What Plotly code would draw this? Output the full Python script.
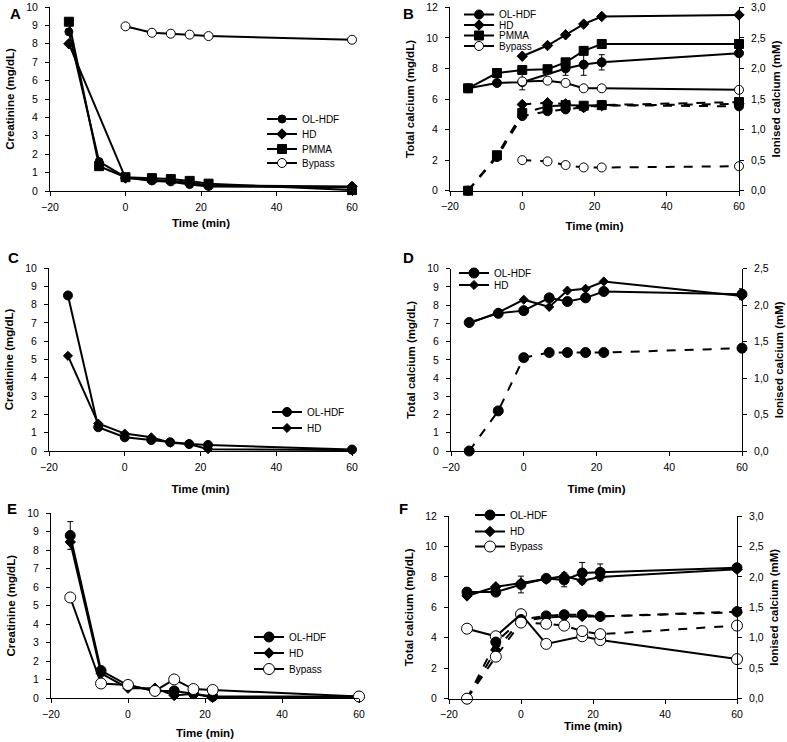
import plotly.graph_objects as go

# sampling times (min), shared by all panels
T = [-15, -7, 0, 7, 12, 17, 22, 60]

# panel A: creatinine (mg/dL)
a_ol = [8.65, 1.6, 0.75, 0.55, 0.5, 0.35, 0.25, 0.2]
a_hd = [8.0, None, 0.7, 0.6, 0.55, 0.45, 0.3, 0.25]
a_pmma = [9.2, 1.35, 0.75, 0.7, 0.65, 0.55, 0.4, 0.05]
a_byp = [None, None, 8.95, 8.6, 8.55, 8.5, 8.42, 8.22]

# panel B: total calcium (mg/dL) and ionised calcium (mM)
b_ol_t = [6.7, 7.05, 7.1, None, 8.0, 8.25, 8.4, 9.0]
b_ol_t_err = [0.25, 0.1, 0.1, 0, 0.45, 0.7, 0.5, 0.1]
b_hd_t = [None, None, 8.8, 9.5, 10.2, 10.9, 11.4, 11.5]
b_pmma_t = [6.7, 7.7, 7.9, 7.95, 8.4, 9.15, 9.6, 9.6]
b_byp_t = [None, None, 7.15, 7.2, 7.05, 6.7, 6.7, 6.6]
b_byp_t_err = [0, 0, 0.55, 0, 0, 0, 0, 0]
b_ol_i = [0, 0.55, 1.22, 1.3, 1.33, 1.37, 1.4, 1.38]
b_hd_i = [None, None, 1.41, 1.44, 1.42, 1.36, 1.39, 1.42]
b_pmma_i = [0, 0.58, 1.27, 1.38, 1.4, 1.39, 1.4, 1.45]
b_byp_i = [None, None, 0.5, 0.48, 0.42, 0.38, 0.38, 0.4]

# panel C: creatinine
c_ol = [8.5, 1.3, 0.75, 0.6, 0.48, 0.38, 0.33, 0.08]
c_hd = [5.2, 1.5, 0.95, 0.75, 0.45, 0.38, 0.1, 0.05]

# panel D: total / ionised calcium
d_ol_t = [7.05, 7.55, 7.7, 8.4, 8.2, 8.4, 8.75, 8.6]
d_ol_t_err = [0.15, 0, 0, 0, 0, 0, 0, 0.3]
d_hd_t = [7.0, 7.6, 8.3, 7.9, 8.8, 8.9, 9.3, 8.5]
d_ol_i = [0, 0.55, 1.28, 1.35, 1.35, 1.35, 1.35, 1.41]

# panel E: creatinine
e_ol = [8.8, 1.5, 0.7, 0.4, 0.4, 0.25, 0.1, 0.1]
e_ol_err = [0.75, 0, 0, 0, 0, 0, 0, 0]
e_hd = [8.45, 1.35, 0.55, 0.55, 0.15, 0.25, 0.05, 0.05]
e_byp = [5.45, 0.8, 0.72, 0.4, 1.02, 0.5, 0.45, 0.1]

# panel F: total / ionised calcium
f_ol_t = [7.0, 7.0, 7.5, 7.9, 7.8, 8.25, 8.3, 8.6]
f_ol_t_err = [0.25, 0, 0.55, 0, 0.45, 0.7, 0.55, 0]
f_hd_t = [6.75, 7.35, 7.6, 7.85, 8.05, 7.75, 8.0, 8.5]
f_byp_t = [4.6, 4.1, 5.55, 3.6, None, 4.1, 3.85, 2.6]
f_ol_i = [0, 0.93, 1.3, 1.36, 1.38, 1.38, 1.35, 1.43]
f_hd_i = [0, 0.8, 1.28, 1.33, 1.35, 1.35, 1.35, 1.42]
f_byp_i = [0, 0.69, 1.25, 1.23, 1.2, 1.11, 1.06, 1.2]

W, H = 787, 742
FONT = "Liberation Sans, Arial"

STYLE = {
    "OL-HDF": dict(symbol="circle", color="black"),
    "HD": dict(symbol="diamond", color="black"),
    "PMMA": dict(symbol="square", color="black"),
    "Bypass": dict(symbol="circle", color="white"),
}

fig = go.Figure()
legend_pos = {}  # legend id -> (text left px, centre y px)
n_leg = [0]


def add(name, y, xa, ya, size=8, dash="solid", err=None, leg=None):
    st = STYLE[name]
    if leg is not None:
        n_leg[0] += 1
        lid = "legend" if n_leg[0] == 1 else "legend%d" % n_leg[0]
        legend_pos[lid] = leg
    else:
        lid = "legend"
    fig.add_trace(
        go.Scatter(
            x=T,
            y=y,
            name=name,
            mode="lines+markers",
            connectgaps=True,
            cliponaxis=False,
            line=dict(color="black", width=2, dash=dash),
            marker=dict(symbol=st["symbol"], color=st["color"], size=size,
                        line=dict(color="black", width=1)),
            error_y=dict(type="data", array=err, color="black", thickness=1, width=3,
                         visible=err is not None),
            xaxis=xa,
            yaxis=ya,
            legend=lid,
            showlegend=leg is not None,
        )
    )


# A
add("OL-HDF", a_ol, "x", "y", 8, leg=(303, 119))
add("HD", a_hd, "x", "y", 8, leg=(303, 134))
add("PMMA", a_pmma, "x", "y", 9, leg=(303, 149))
add("Bypass", a_byp, "x", "y", 9, leg=(303, 163))

# B (legend box is 29px tall, so the top entry cannot sit higher than 14.5px)
add("OL-HDF", b_ol_i, "x2", "y7", 9, "dash")
add("HD", b_hd_i, "x2", "y7", 8, "dash")
add("PMMA", b_pmma_i, "x2", "y7", 9, "dash")
add("Bypass", b_byp_i, "x2", "y7", 9, "dash")
add("OL-HDF", b_ol_t, "x2", "y2", 9, err=b_ol_t_err, leg=(500, 14.5))
add("HD", b_hd_t, "x2", "y2", 8, leg=(500, 25))
add("PMMA", b_pmma_t, "x2", "y2", 9, leg=(500, 35.5))
add("Bypass", b_byp_t, "x2", "y2", 9, err=b_byp_t_err, leg=(500, 46))

# C
add("OL-HDF", c_ol, "x3", "y3", 9, leg=(308, 412))
add("HD", c_hd, "x3", "y3", 7, leg=(308, 428))

# D
add("OL-HDF", d_ol_i, "x4", "y8", 10, "dash")
add("OL-HDF", d_ol_t, "x4", "y4", 10, err=d_ol_t_err, leg=(495, 273))
add("HD", d_hd_t, "x4", "y4", 7, leg=(495, 285))

# E
add("OL-HDF", e_ol, "x5", "y5", 10, err=e_ol_err, leg=(290, 637))
add("HD", e_hd, "x5", "y5", 8, leg=(290, 653))
add("Bypass", e_byp, "x5", "y5", 11, leg=(290, 669))

# F
add("OL-HDF", f_ol_i, "x6", "y9", 10, "dash")
add("HD", f_hd_i, "x6", "y9", 8, "dash")
add("Bypass", f_byp_i, "x6", "y9", 11, "dash")
add("OL-HDF", f_ol_t, "x6", "y6", 10, err=f_ol_t_err, leg=(511, 515))
add("HD", f_hd_t, "x6", "y6", 8, leg=(511, 531.5))
add("Bypass", f_byp_t, "x6", "y6", 11, leg=(511, 546.5))


def px(a, b):
    return [a / W, b / W]


def py(top, bottom):
    return [1 - bottom / H, 1 - top / H]


axis_common = dict(
    showgrid=False, zeroline=False, showline=True, linecolor="black", linewidth=1,
    ticks="outside", ticklen=4, tickcolor="black", automargin=False,
    tickfont=dict(size=10.5, family=FONT, color="black"),
)
title_font = dict(size=11.5, family=FONT, color="black")


def xaxis(dom, anchor, standoff):
    return dict(axis_common, domain=dom, anchor=anchor, range=[-20, 60], dtick=20,
                ticklabelstandoff=2,
                title=dict(text="<b>Time (min)</b>", font=title_font, standoff=standoff))


def yaxis(dom, anchor, rng, dtick, title):
    return dict(axis_common, domain=dom, anchor=anchor, range=rng, dtick=dtick,
                ticklabelstandoff=5,
                title=dict(text="<b>" + title + "</b>", font=title_font, standoff=9))


def yaxis_r(over, anchor, rng, dtick):
    return dict(axis_common, overlaying=over, anchor=anchor, side="right", range=rng, dtick=dtick,
                tickformat=".1f", ticklabelstandoff=5,
                title=dict(text="<b>Ionised calcium (mM)</b>", font=title_font, standoff=7))


legends = {}
for lid, (tx, cy) in legend_pos.items():
    legends[lid] = dict(bgcolor="rgba(0,0,0,0)", font=dict(size=10, family=FONT, color="black"),
                        xanchor="left", yanchor="middle", x=(tx - 41) / W, y=1 - cy / H)

fig.update_layout(
    width=W, height=H, autosize=False,
    margin=dict(l=0, r=0, t=0, b=0),
    paper_bgcolor="white", plot_bgcolor="white",
    separators=", ",
    font=dict(family=FONT, size=11, color="black"),
    xaxis=xaxis(px(50, 352), "y", 7),
    yaxis=yaxis(py(7, 191), "x", [0, 10], 1, "Creatinine (mg/dL)"),
    xaxis2=xaxis(px(450, 739), "y2", 10),
    yaxis2=yaxis(py(7.3, 190.7), "x2", [0, 12], 2, "Total calcium (mg/dL)"),
    yaxis7=yaxis_r("y2", "x2", [0, 3], 0.5),
    xaxis3=xaxis(px(49, 352), "y3", 13),
    yaxis3=yaxis(py(268, 451), "x3", [0, 10], 1, "Creatinine (mg/dL)"),
    xaxis4=xaxis(px(451, 742), "y4", 13),
    yaxis4=yaxis(py(268.7, 451), "x4", [0, 10], 1, "Total calcium (mg/dL)"),
    yaxis8=yaxis_r("y4", "x4", [0, 2.5], 0.5),
    xaxis5=xaxis(px(51, 359), "y5", 10),
    yaxis5=yaxis(py(513.3, 698.3), "x5", [0, 10], 1, "Creatinine (mg/dL)"),
    xaxis6=xaxis(px(449, 737), "y6", 2),
    yaxis6=yaxis(py(516, 698.7), "x6", [0, 12], 2, "Total calcium (mg/dL)"),
    yaxis9=yaxis_r("y6", "x6", [0, 3], 0.5),
    **legends,
)

# panel letters
for letter, lx, ly in [("A", 15, 14), ("B", 408, 14), ("C", 13, 257),
                       ("D", 408, 257), ("E", 12, 508), ("F", 404, 508)]:
    fig.add_annotation(text="<b>" + letter + "</b>", x=lx / W, y=1 - ly / H, xref="paper", yref="paper",
                       xanchor="center", yanchor="middle", showarrow=False,
                       font=dict(size=15, family=FONT, color="black"))

# the page body has a default 8px margin; drop it so the figure sits at the window corner
fig.write_html("out.html", config={"displayModeBar": False},
               post_script="document.body.style.margin='0px';")
